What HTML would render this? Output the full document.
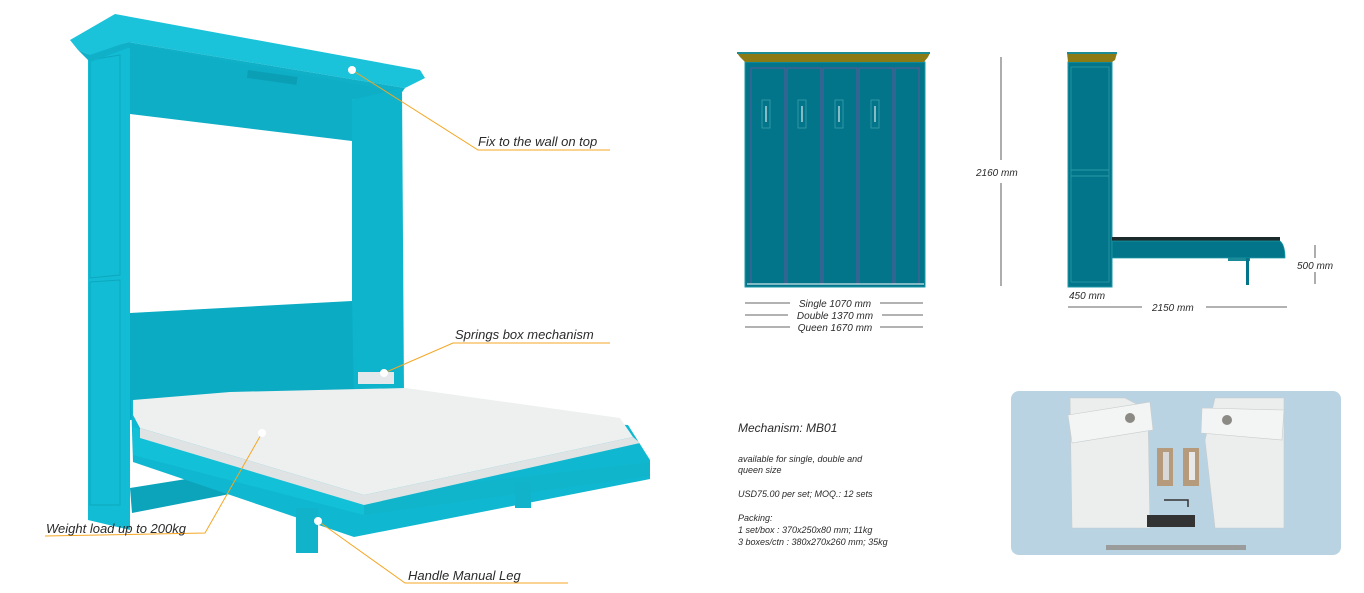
<!DOCTYPE html>
<html><head><meta charset="utf-8"><style>
html,body{margin:0;padding:0;background:#fff;}
body{width:1364px;height:593px;overflow:hidden;position:relative;font-family:"Liberation Sans",sans-serif;}
svg{position:absolute;left:0;top:0;}
.t{font-family:"Liberation Sans",sans-serif;font-style:italic;fill:#2a2a2a;}
</style></head><body>
<svg width="1364" height="593" viewBox="0 0 1364 593">
<!-- ===== 3D bed ===== -->
<!-- left side column -->
<polygon points="88,52 130,42 130,530 88,520" fill="#12bcd4"/>
<polygon points="90,60 120,55 120,275 90,278" fill="none" stroke="#0ea7bd" stroke-width="1"/>
<polygon points="90,282 120,280 120,505 90,505" fill="none" stroke="#0ea7bd" stroke-width="1"/>
<!-- cornice -->
<polygon points="70,40 115,14 420,70 425,78 405,88 128,42 90,55 78,50" fill="#1ac3da"/>
<polygon points="78,50 90,55 128,42 405,88 400,95 128,48 90,62" fill="#0fb0c8"/>
<!-- header band -->
<polygon points="130,44 400,92 352,100 352,141 130,114" fill="#0eaec6"/>
<rect x="248" y="70" width="50" height="8" fill="#0b9fb6" transform="rotate(8 248 70)"/>
<!-- right inner side -->
<polygon points="352,100 402,88 404,395 352,392" fill="#0db4cc"/>
<!-- headboard -->
<polygon points="130,313 352,301 354,400 130,420" fill="#0aabc3"/>
<!-- bottom rail -->
<polygon points="130,488 230,472 235,493 132,513" fill="#0ca4bb"/>
<!-- mechanism plate -->
<rect x="358" y="372" width="36" height="12" fill="#e4e8ea"/>
<!-- bed frame -->
<polygon points="131,400 133,462 354,537 650,479 650,460 628,425" fill="#0fb8d0"/>
<polygon points="133,427 364,495 364,515 133,455" fill="#12c0d7"/>
<polygon points="364,495 650,462 650,476 364,515" fill="#10b5cc"/>
<!-- mattress -->
<polygon points="133,400 230,392 406,388 620,418 633,437 364,495 140,428 133,415" fill="#eef0f0"/>
<polygon points="140,428 364,495 633,437 640,443 364,505 140,438" fill="#dfe3e4"/>
<!-- legs -->
<rect x="296" y="508" width="22" height="45" fill="#10b3ca"/>
<rect x="515" y="482" width="16" height="26" fill="#10b3ca"/>
<!-- leaders -->
<g stroke="#f5a623" stroke-width="1" fill="none">
<polyline points="352,70 478,150 610,150"/>
<polyline points="384,373 453,343 610,343"/>
<polyline points="262,433 205,533 45,536"/>
<polyline points="318,521 405,583 568,583"/>
</g>
<g fill="#fff"><circle cx="352" cy="70" r="4"/><circle cx="384" cy="373" r="4"/><circle cx="262" cy="433" r="4"/><circle cx="318" cy="521" r="4"/></g>
<text class="t" x="478" y="146" font-size="13">Fix to the wall on top</text>
<text class="t" x="455" y="339" font-size="13">Springs box mechanism</text>
<text class="t" x="46" y="533" font-size="13">Weight load up to 200kg</text>
<text class="t" x="408" y="580" font-size="13">Handle Manual Leg</text>

<!-- ===== front elevation ===== -->
<rect x="745" y="62" width="180" height="225" fill="#02758a" stroke="#1b9aa8" stroke-width="1"/>
<polygon points="737,53 930,53 928,57 924,62 745,62 740,57" fill="#8c7a15"/>
<line x1="737" y1="53" x2="930" y2="53" stroke="#1d8b94" stroke-width="2"/>
<g fill="none" stroke="#7a4f9e" stroke-width="0.8">
<rect x="751" y="68" width="34" height="216"/><rect x="787" y="68" width="34" height="216"/>
<rect x="823" y="68" width="34" height="216"/><rect x="859" y="68" width="34" height="216"/>
<rect x="895" y="68" width="24" height="216"/>
</g>
<g stroke="#3aa0a8" fill="none" stroke-width="0.8">
<rect x="762" y="100" width="8" height="28"/><rect x="798" y="100" width="8" height="28"/>
<rect x="835" y="100" width="8" height="28"/><rect x="871" y="100" width="8" height="28"/>
</g>
<g stroke="#e0e8ea" stroke-width="1.2">
<line x1="766" y1="106" x2="766" y2="122"/><line x1="802" y1="106" x2="802" y2="122"/>
<line x1="839" y1="106" x2="839" y2="122"/><line x1="875" y1="106" x2="875" y2="122"/>
</g>
<line x1="747" y1="284" x2="924" y2="284" stroke="#fff" stroke-width="1"/>
<g stroke="#333" stroke-width="0.8">
<line x1="745" y1="303" x2="790" y2="303"/><line x1="880" y1="303" x2="923" y2="303"/>
<line x1="745" y1="315" x2="788" y2="315"/><line x1="882" y1="315" x2="923" y2="315"/>
<line x1="745" y1="327" x2="790" y2="327"/><line x1="880" y1="327" x2="923" y2="327"/>
<line x1="1001" y1="57" x2="1001" y2="160"/><line x1="1001" y1="183" x2="1001" y2="286"/>
<line x1="1068" y1="307" x2="1142" y2="307"/><line x1="1206" y1="307" x2="1287" y2="307"/>
<line x1="1315" y1="245" x2="1315" y2="258"/><line x1="1315" y1="272" x2="1315" y2="284"/>
</g>
<text class="t" x="835" y="307" font-size="10" text-anchor="middle">Single 1070 mm</text>
<text class="t" x="835" y="319" font-size="10" text-anchor="middle">Double 1370 mm</text>
<text class="t" x="835" y="331" font-size="10" text-anchor="middle">Queen 1670 mm</text>
<text class="t" x="976" y="176" font-size="10">2160 mm</text>

<!-- ===== side elevation ===== -->
<rect x="1068" y="62" width="44" height="225" fill="#02758a" stroke="#1b9aa8" stroke-width="1"/>
<polygon points="1067,53 1117,53 1115,60 1112,62 1068,62" fill="#8c7a15"/>
<line x1="1067" y1="53" x2="1117" y2="53" stroke="#1d8b94" stroke-width="2"/>
<rect x="1071" y="67" width="38" height="215" fill="none" stroke="#2a9aa5" stroke-width="0.8"/>
<line x1="1071" y1="170" x2="1109" y2="170" stroke="#2a9aa5"/><line x1="1071" y1="176" x2="1109" y2="176" stroke="#2a9aa5"/>
<rect x="1112" y="237" width="168" height="4" fill="#1c2a2c"/>
<path d="M1112,241 H1280 Q1285,245 1285,258 H1112 Z" fill="#02758a" stroke="#1b9aa8" stroke-width="0.8"/>
<rect x="1228" y="258" width="22" height="3" fill="#1b8a98"/>
<rect x="1246" y="258" width="3" height="27" fill="#02758a"/>
<text class="t" x="1069" y="299" font-size="10">450 mm</text>
<text class="t" x="1152" y="311" font-size="10">2150 mm</text>
<text class="t" x="1297" y="269" font-size="10">500 mm</text>

<!-- ===== mechanism text ===== -->
<text class="t" x="738" y="432" font-size="12" fill="#333">Mechanism: MB01</text>
<text class="t" x="738" y="462" font-size="9">available for single, double and</text>
<text class="t" x="738" y="473" font-size="9">queen size</text>
<text class="t" x="738" y="497" font-size="9">USD75.00 per set;   MOQ.: 12 sets</text>
<text class="t" x="738" y="521" font-size="9">Packing:</text>
<text class="t" x="738" y="533" font-size="9">1 set/box : 370x250x80 mm; 11kg</text>
<text class="t" x="738" y="545" font-size="9">3 boxes/ctn : 380x270x260 mm; 35kg</text>

<!-- ===== photo ===== -->
<rect x="1011" y="391" width="330" height="164" rx="8" fill="#b9d3e3"/>
<polygon points="1070,398 1125,398 1148,410 1150,528 1072,528" fill="#eceeee" stroke="#c8cccc" stroke-width="0.6"/>
<polygon points="1068,415 1150,402 1153,430 1072,443" fill="#f3f4f4" stroke="#c8cccc" stroke-width="0.6"/>
<circle cx="1130" cy="418" r="5" fill="#8c8a84"/>
<polygon points="1215,398 1284,398 1284,528 1215,528 1205,440" fill="#eceeee" stroke="#c8cccc" stroke-width="0.6"/>
<polygon points="1202,408 1284,410 1282,440 1201,433" fill="#f3f4f4" stroke="#c8cccc" stroke-width="0.6"/>
<circle cx="1227" cy="420" r="5" fill="#8c8a84"/>
<rect x="1157" y="448" width="16" height="38" fill="#b59a7c"/>
<rect x="1183" y="448" width="16" height="38" fill="#b59a7c"/>
<rect x="1163" y="452" width="6" height="28" fill="#d8d8d8"/><rect x="1189" y="452" width="6" height="28" fill="#e8e8e8"/>
<path d="M1164,500 H1188 V507" stroke="#333" stroke-width="1.5" fill="none"/>
<g fill="#333"><rect x="1147" y="515" width="48" height="12"/></g>
<rect x="1106" y="545" width="140" height="5" fill="#9a9c9c"/>
</svg>
</body></html>
